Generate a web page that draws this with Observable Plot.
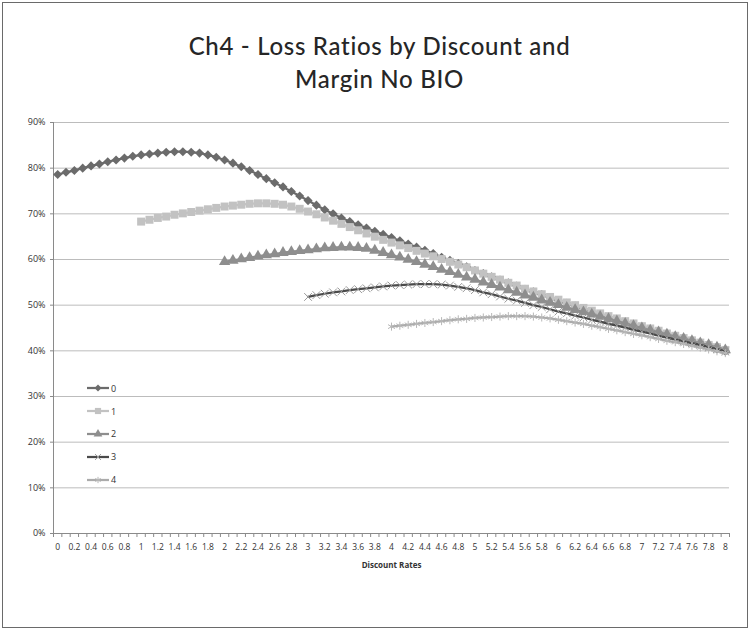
<!DOCTYPE html>
<html><head><meta charset="utf-8">
<script src="https://cdn.jsdelivr.net/npm/d3@7"></script>
<script src="https://cdn.jsdelivr.net/npm/@observablehq/plot@0.6"></script>
<style>
body{margin:0;background:#fff;}
#wrap{position:relative;width:751px;height:632px;overflow:hidden}
#frame{position:absolute;left:2px;top:2px;width:746px;height:626px;border:1.5px solid #6a6a6a;box-sizing:border-box;pointer-events:none}
#title{position:absolute;left:4px;width:751px;top:29px;text-align:center;font-family:Lato,'Noto Sans',sans-serif;font-weight:500;font-size:24px;letter-spacing:0.7px;line-height:33px;color:#262626}
#legend{position:absolute;left:86px;top:377px;font-family:'Open Sans',sans-serif;font-size:9px;color:#333}
#legend .row{height:22.8px;display:flex;align-items:center}
#legend svg{display:block}
#chart{position:absolute;left:0;top:0}
</style>
</head><body>
<div id="wrap">
  <div id="chart"></div>
  <div id="title">Ch4 - Loss Ratios by Discount and<br>Margin No BIO</div>
  <div id="legend"></div>
  <div id="frame"></div>
</div>
<script>
// Discount rate categories (0 to 8 in steps of 0.1)
const rates = [0,0.1,0.2,0.3,0.4,0.5,0.6,0.7,0.8,0.9,1,1.1,1.2,1.3,1.4,1.5,1.6,1.7,1.8,1.9,2,2.1,2.2,2.3,2.4,2.5,2.6,2.7,2.8,2.9,3,3.1,3.2,3.3,3.4,3.5,3.6,3.7,3.8,3.9,4,4.1,4.2,4.3,4.4,4.5,4.6,4.7,4.8,4.9,5,5.1,5.2,5.3,5.4,5.5,5.6,5.7,5.8,5.9,6,6.1,6.2,6.3,6.4,6.5,6.6,6.7,6.8,6.9,7,7.1,7.2,7.3,7.4,7.5,7.6,7.7,7.8,7.9,8];
// x tick labels
const xTickLabels = ["0","0.2","0.4","0.6","0.8","1","1.2","1.4","1.6","1.8","2","2.2","2.4","2.6","2.8","3","3.2","3.4","3.6","3.8","4","4.2","4.4","4.6","4.8","5","5.2","5.4","5.6","5.8","6","6.2","6.4","6.6","6.8","7","7.2","7.4","7.6","7.8","8"];
const yTicks = [0,10,20,30,40,50,60,70,80,90];
const seriesNames = ["0","1","2","3","4"];
// first rate index of each series
const seriesStart = [0,10,20,30,40];
// loss ratios (%)
const s0 = [78.6,79.1,79.5,80.0,80.5,80.9,81.4,81.8,82.2,82.6,
  82.9,83.1,83.3,83.5,83.6,83.6,83.5,83.3,82.9,82.4,
  81.8,81.1,80.3,79.5,78.6,77.7,76.8,75.9,74.9,73.9,
  72.9,71.9,70.9,70.0,69.1,68.3,67.6,66.9,66.2,65.5,
  64.8,64.1,63.4,62.7,62.0,61.3,60.5,59.8,59.1,58.4,
  57.6,56.9,56.2,55.5,54.9,54.2,53.5,52.9,52.3,51.6,
  51.0,50.4,49.8,49.2,48.6,48.0,47.4,46.8,46.3,45.7,
  45.2,44.6,44.1,43.5,43.0,42.5,41.9,41.4,40.9,40.4,
  39.9];
const s1 = [68.3,68.7,69.1,69.4,69.8,70.1,70.4,70.7,71.0,71.3,
  71.6,71.8,72.0,72.2,72.3,72.3,72.2,72.0,71.6,71.1,
  70.5,69.9,69.2,68.5,67.8,67.1,66.4,65.7,65.0,64.3,
  63.7,63.1,62.5,61.9,61.3,60.7,60.1,59.5,58.9,58.3,
  57.6,56.9,56.2,55.6,54.9,54.3,53.6,53.0,52.4,51.8,
  51.2,50.6,50.0,49.4,48.8,48.2,47.6,47.1,46.5,46.0,
  45.4,44.9,44.4,43.8,43.3,42.8,42.3,41.8,41.3,40.8,
  40.2];
const s2 = [59.5,59.8,60.1,60.4,60.7,61.0,61.2,61.5,61.7,61.9,
  62.1,62.3,62.5,62.6,62.7,62.7,62.6,62.4,62.0,61.5,
  61.0,60.5,60.0,59.5,58.9,58.4,57.8,57.3,56.7,56.1,
  55.6,55.0,54.5,53.9,53.3,52.8,52.2,51.7,51.1,50.6,
  50.1,49.5,49.0,48.5,48.0,47.5,47.0,46.5,46.0,45.5,
  45.0,44.5,44.1,43.6,43.1,42.7,42.2,41.7,41.3,40.8,
  40.2];
const s3 = [51.8,52.2,52.5,52.8,53.0,53.3,53.5,53.7,53.9,54.1,
  54.3,54.4,54.5,54.6,54.6,54.6,54.5,54.3,54.0,53.7,
  53.3,52.8,52.4,51.9,51.4,51.0,50.5,50.0,49.6,49.1,
  48.6,48.2,47.7,47.3,46.8,46.4,45.9,45.5,45.1,44.6,
  44.2,43.8,43.3,42.9,42.5,42.1,41.7,41.3,40.8,40.4,
  39.9];
const s4 = [45.3,45.5,45.7,45.9,46.1,46.3,46.5,46.7,46.9,47.0,
  47.2,47.3,47.4,47.5,47.6,47.6,47.6,47.5,47.3,47.1,
  46.8,46.5,46.2,45.9,45.5,45.2,44.8,44.5,44.1,43.7,
  43.4,43.0,42.6,42.2,41.9,41.5,41.1,40.7,40.3,39.9,
  39.5];

const allSeries = [s0,s1,s2,s3,s4];
const styles = [
  {line:"#6b6b6b", symbol:"diamond2", r:4.1, fill:"#6b6b6b", stroke:"none", sw:0},
  {line:"#c2c2c2", symbol:"square", r:4.5, fill:"#c2c2c2", stroke:"none", sw:0},
  {line:"#8e8e8e", symbol:"triangle", r:4.2, fill:"#8e8e8e", stroke:"none", sw:0},
  {line:"#4a4a4a", symbol:"times", r:3.6, fill:"none", stroke:"#9a9a9a", sw:1},
  {line:"#ababab", symbol:"asterisk", r:3.8, fill:"none", stroke:"#b8b8b8", sw:1}
];

const data = allSeries.map((vals, k) => vals.map((v, i) => ({s: k, x: rates[seriesStart[k] + i], y: v})));

const boundaries = rates.map(r => r - 0.05).concat([rates[rates.length-1] + 0.05]);
const xLabelValues = xTickLabels.map(Number);

const marks = [
  Plot.gridY(yTicks.slice(1), {stroke:"#bcbcbc", strokeOpacity:1, strokeWidth:1}),
  Plot.axisY(yTicks, {tickSize:3, tickPadding:5, stroke:"#8a8a8a", fill:"#333", tickFormat: d => d + "%", label:null, fontSize:9}),
  Plot.axisX(boundaries, {tickSize:4, stroke:"#8a8a8a", tickFormat: () => "", label:null}),
  Plot.axisX(xLabelValues, {tickSize:0, tickPadding:10, fill:"#333", tickFormat: d => String(d), label:null, fontSize:8.5}),
  Plot.ruleY([0], {stroke:"#8a8a8a"}),
  Plot.ruleX([boundaries[0]], {y1:0, y2:90, stroke:"#8a8a8a"}),
  Plot.text(["Discount Rates"], {frameAnchor:"bottom", dy:34, fontWeight:"bold", fontSize:8, fill:"#333"})
];
data.forEach((d, k) => {
  const st = styles[k];
  marks.push(Plot.line(d, {x:"x", y:"y", stroke:st.line, strokeWidth:2.25}));
  marks.push(Plot.dot(d, {x:"x", y:"y", symbol:st.symbol, r:st.r, fill:st.fill, stroke:st.stroke, strokeWidth:st.sw}));
});

const chart = Plot.plot({
  width: 751, height: 632,
  marginLeft: 53, marginRight: 22, marginTop: 122, marginBottom: 99,
  x: {domain: [boundaries[0], boundaries[boundaries.length-1]]},
  y: {domain: [0, 90]},
  style: {fontFamily: "'Open Sans', sans-serif", fontSize: "9px", background: "transparent"},
  marks
});
document.getElementById("chart").appendChild(chart);

// legend
const symMap = {diamond2:d3.symbolDiamond2, square:d3.symbolSquare, triangle:d3.symbolTriangle, times:d3.symbolTimes, asterisk:d3.symbolAsterisk};
const leg = d3.select("#legend");
seriesNames.forEach((name, k) => {
  const st = styles[k];
  const row = leg.append("div").attr("class","row");
  const svg = row.append("svg").attr("width",25).attr("height",12);
  svg.append("line").attr("x1",1).attr("x2",23).attr("y1",6).attr("y2",6).attr("stroke",st.line).attr("stroke-width",2.25);
  svg.append("path").attr("transform","translate(12,6)")
    .attr("d", d3.symbol(symMap[st.symbol], Math.PI*st.r*st.r*0.6)())
    .attr("fill", st.fill).attr("stroke", st.stroke).attr("stroke-width", st.sw);
  row.append("span").text(name);
});
</script>
</body></html>
